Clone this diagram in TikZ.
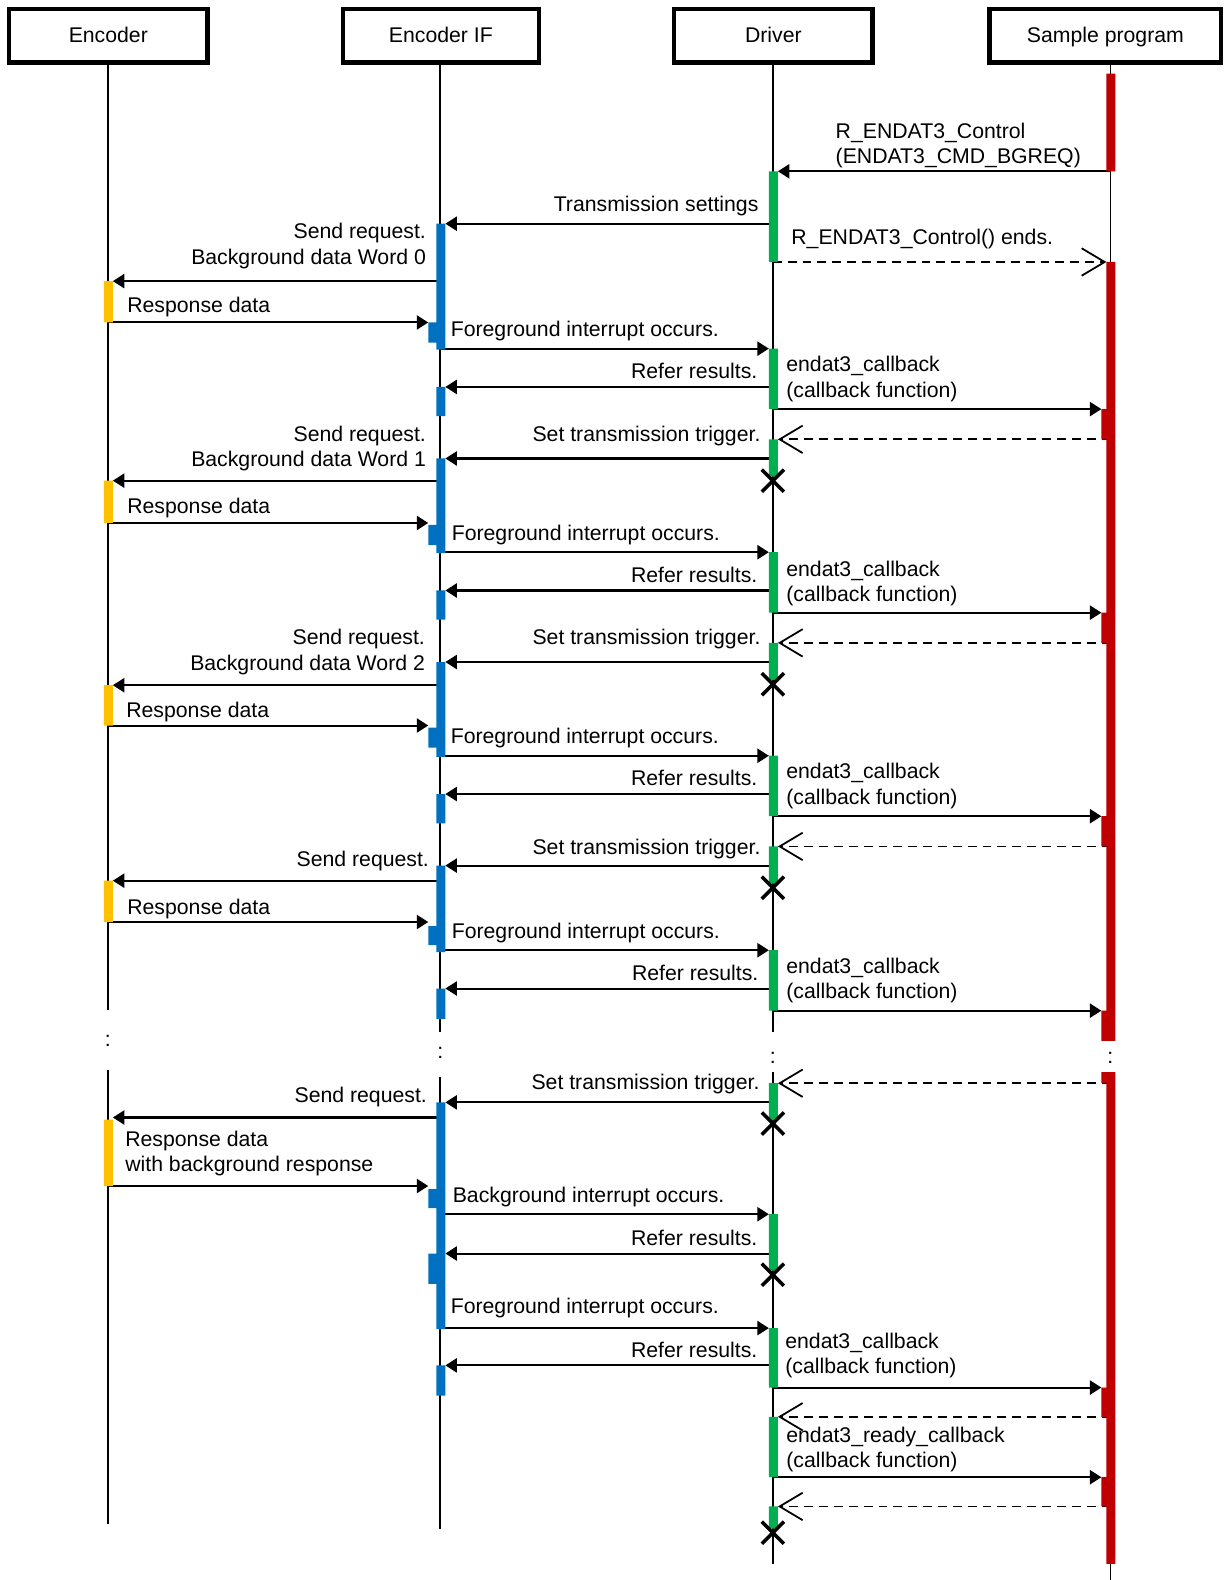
\documentclass[tikz,border=0pt]{standalone}
\usepackage{fontspec}
\setmainfont{Liberation Sans}
\usetikzlibrary{arrows.meta,positioning}
\definecolor{barred}{HTML}{C00000}
\definecolor{bargreen}{HTML}{00B050}
\definecolor{barblue}{HTML}{0070C0}
\definecolor{baryellow}{HTML}{FFC000}

\begin{document}
\begin{tikzpicture}[x=0.02cm,y=-0.02cm,font=\fontsize{12}{14.2}\selectfont,
    head/.style={draw,line width=2.4pt,minimum height=1.06cm,inner sep=0pt,text height=0.95em,text depth=0.2em},
    life/.style={line width=1pt},
    msg/.style={line width=1.15pt,-{Triangle[length=6.5pt,width=8pt]}},
    ret/.style={line width=1pt,dash pattern=on 5pt off 3.4pt,-{Straight Barb[length=13pt,width=15.5pt]}},
    lbl/.style={inner sep=0pt},
    xmark/.style={line width=2pt}]
  \useasboundingbox (0,0) rectangle (1214,1568);

  % headers
  \node[head,minimum width=3.94cm] (enc) at (107.5,35.5) {Encoder};
  \node[head,minimum width=3.9cm] (encif) at (437.5,35.5) {Encoder IF};
  \node[head,minimum width=3.94cm] (drv) at (767.5,35.5) {Driver};
  \node[head,minimum width=4.6cm] (smp) at (1097,35.5) {Sample program};

  % lifeline x and bar edges
  \coordinate (E) at (107,0);
  \coordinate (I) at (437,0);
  \coordinate (D) at (767,0);
  \coordinate (S) at (1102,0);
  \coordinate (yR) at (112,0);
  \coordinate (bN) at (425,0);
  \coordinate (bR) at (442,0);
  \coordinate (gL) at (763,0);
  \coordinate (gR) at (772,0);
  \coordinate (rN) at (1093,0);
  \coordinate (rL) at (1098,0);

  % lifelines
  \draw[life] (E |- enc.south) -- (E |- 0,1002) (E |- 0,1062) -- (E |- 0,1512);
  \draw[life] (I |- encif.south) -- (I |- 0,1024) (I |- 0,1069) -- (I |- 0,1517);
  \draw[life] (D |- drv.south) -- (D |- 0,1024) (D |- 0,1064) -- (D |- 0,1552);
  \draw[life] (S |- smp.south) -- (S |- 0,1033) (S |- 0,1064) -- (S |- 0,1568);
  \node[lbl] (dotE) at (107,1033) {:};
  \node[lbl] (dotI) at (437,1045) {:};
  \node[lbl] (dotD) at (767,1050) {:};
  \node[lbl] (dotS) at (1102,1050) {:};

  % messages
  \draw[msg] (S |- 0,170) -- (gR |- 0,170);
  \draw[msg] (D |- 0,222) -- (bR |- 0,222);
  \draw[ret] (D |- 0,260) -- (rL |- 0,260);
  \draw[msg] (I |- 0,279) -- (yR |- 0,279);
  \draw[msg] (E |- 0,320) -- (bN |- 0,320);
  \draw[msg] (I |- 0,346) -- (gL |- 0,346);
  \draw[msg] (D |- 0,384) -- (bR |- 0,384);
  \draw[msg] (D |- 0,406) -- (rN |- 0,406);
  \draw[ret] (S |- 0,436) -- (gR |- 0,436);
  \draw[msg] (D |- 0,455) -- (bR |- 0,455);

  \draw[msg] (I |- 0,477) -- (yR |- 0,477);
  \draw[msg] (E |- 0,519) -- (bN |- 0,519);
  \draw[msg] (I |- 0,548) -- (gL |- 0,548);
  \draw[msg] (D |- 0,586) -- (bR |- 0,586);
  \draw[msg] (D |- 0,608) -- (rN |- 0,608);
  \draw[ret] (S |- 0,638) -- (gR |- 0,638);
  \draw[msg] (D |- 0,657) -- (bR |- 0,657);

  \draw[msg] (I |- 0,680) -- (yR |- 0,680);
  \draw[msg] (E |- 0,720) -- (bN |- 0,720);
  \draw[msg] (I |- 0,750) -- (gL |- 0,750);
  \draw[msg] (D |- 0,788) -- (bR |- 0,788);
  \draw[msg] (D |- 0,810) -- (rN |- 0,810);
  \draw[ret] (S |- 0,840) -- (gR |- 0,840);
  \draw[msg] (D |- 0,859) -- (bR |- 0,859);

  \draw[msg] (I |- 0,874) -- (yR |- 0,874);
  \draw[msg] (E |- 0,915) -- (bN |- 0,915);
  \draw[msg] (I |- 0,943) -- (gL |- 0,943);
  \draw[msg] (D |- 0,981) -- (bR |- 0,981);
  \draw[msg] (D |- 0,1003) -- (rN |- 0,1003);

  \draw[ret] (S |- 0,1075) -- (gR |- 0,1075);
  \draw[msg] (D |- 0,1094) -- (bR |- 0,1094);
  \draw[msg] (I |- 0,1109) -- (yR |- 0,1109);
  \draw[msg] (E |- 0,1177) -- (bN |- 0,1177);
  \draw[msg] (I |- 0,1205) -- (gL |- 0,1205);
  \draw[msg] (D |- 0,1244) -- (bR |- 0,1244);
  \draw[msg] (I |- 0,1318) -- (gL |- 0,1318);
  \draw[msg] (D |- 0,1355) -- (bR |- 0,1355);
  \draw[msg] (D |- 0,1377) -- (rN |- 0,1377);
  \draw[ret] (S |- 0,1406) -- (gR |- 0,1406);
  \draw[msg] (D |- 0,1466) -- (rN |- 0,1466);
  \draw[ret] (S |- 0,1495) -- (gR |- 0,1495);

  % activation bars
  \fill[baryellow] (103,279) rectangle (112,320) (103,477) rectangle (112,519)
    (103,680) rectangle (112,720) (103,874) rectangle (112,915) (103,1111) rectangle (112,1177);
  \fill[barblue] (433,222) rectangle (442,347) (425,320) rectangle (433,340) (433,384) rectangle (442,413)
    (433,455) rectangle (442,549) (425,521) rectangle (433,541) (433,586) rectangle (442,615)
    (433,657) rectangle (442,751) (425,722) rectangle (433,742) (433,788) rectangle (442,817)
    (433,859) rectangle (442,945) (425,919) rectangle (433,938) (433,981) rectangle (442,1011)
    (433,1094) rectangle (442,1319) (425,1180) rectangle (433,1199) (425,1244) rectangle (433,1274)
    (433,1355) rectangle (442,1385);
  \fill[bargreen] (763,170) rectangle (772,260) (763,346) rectangle (772,406) (763,436) rectangle (772,473)
    (763,548) rectangle (772,608) (763,638) rectangle (772,675) (763,750) rectangle (772,810)
    (763,840) rectangle (772,877) (763,943) rectangle (772,1003) (763,1075) rectangle (772,1112)
    (763,1205) rectangle (772,1261) (763,1318) rectangle (772,1377) (763,1406) rectangle (772,1466)
    (763,1495) rectangle (772,1517);
  \fill[barred] (1098,73) rectangle (1107,170) (1098,260) rectangle (1107,1033)
    (1093,406) rectangle (1100,436) (1093,608) rectangle (1100,638) (1093,810) rectangle (1100,840)
    (1093,1003) rectangle (1100,1033) (1098,1064) rectangle (1107,1552) (1093,1064) rectangle (1100,1075)
    (1093,1377) rectangle (1100,1406) (1093,1466) rectangle (1100,1495);

  % ends of driver activations
  \draw[xmark] (D |- 0,477) +(-11,-11) -- +(11,11) +(-11,11) -- +(11,-11);
  \draw[xmark] (D |- 0,679) +(-11,-11) -- +(11,11) +(-11,11) -- +(11,-11);
  \draw[xmark] (D |- 0,881) +(-11,-11) -- +(11,11) +(-11,11) -- +(11,-11);
  \draw[xmark] (D |- 0,1115) +(-11,-11) -- +(11,11) +(-11,11) -- +(11,-11);
  \draw[xmark] (D |- 0,1265) +(-11,-11) -- +(11,11) +(-11,11) -- +(11,-11);
  \draw[xmark] (D |- 0,1521) +(-11,-11) -- +(11,11) +(-11,11) -- +(11,-11);

  % labels (two-line labels sit on their last baseline)
  \node[lbl,anchor=base west,align=left] (ctrl) at (829,162) {R\_ENDAT3\_Control\\(ENDAT3\_CMD\_BGREQ)};
  \node[lbl,anchor=base east] (tset) at (753,210) {Transmission settings};
  \node[lbl,anchor=base west] (ends) at (785,243) {R\_ENDAT3\_Control() ends.};

  \node[lbl,anchor=base east,align=right] (req0) at (423,262) {Send request.\\Background data Word 0};
  \node[lbl,anchor=base west] (rsp0) at (126,310) {Response data};
  \node[lbl,anchor=base west] (fg0) at (447,334) {Foreground interrupt occurs.};
  \node[lbl,anchor=base east] (ref0) at (752,376) {Refer results.};
  \node[lbl,anchor=base west,align=left] (cb0) at (780,394) {endat3\_callback\\(callback function)};

  \node[lbl,anchor=base east] (trg1) at (755,438) {Set transmission trigger.};
  \node[lbl,anchor=base east,align=right] (req1) at (423,463) {Send request.\\Background data Word 1};
  \node[lbl,anchor=base west] (rsp1) at (126,510) {Response data};
  \node[lbl,anchor=base west] (fg1) at (448,536) {Foreground interrupt occurs.};
  \node[lbl,anchor=base east] (ref1) at (752,578) {Refer results.};
  \node[lbl,anchor=base west,align=left] (cb1) at (780,597) {endat3\_callback\\(callback function)};

  \node[lbl,anchor=base east] (trg2) at (755,640) {Set transmission trigger.};
  \node[lbl,anchor=base east,align=right] (req2) at (422,665) {Send request.\\Background data Word 2};
  \node[lbl,anchor=base west] (rsp2) at (125,712) {Response data};
  \node[lbl,anchor=base west] (fg2) at (447,738) {Foreground interrupt occurs.};
  \node[lbl,anchor=base east] (ref2) at (752,780) {Refer results.};
  \node[lbl,anchor=base west,align=left] (cb2) at (780,798) {endat3\_callback\\(callback function)};

  \node[lbl,anchor=base east] (trg3) at (755,848) {Set transmission trigger.};
  \node[lbl,anchor=base east] (req3) at (426,860) {Send request.};
  \node[lbl,anchor=base west] (rsp3) at (126,908) {Response data};
  \node[lbl,anchor=base west] (fg3) at (448,931) {Foreground interrupt occurs.};
  \node[lbl,anchor=base east] (ref3) at (753,973) {Refer results.};
  \node[lbl,anchor=base west,align=left] (cb3) at (780,991) {endat3\_callback\\(callback function)};

  \node[lbl,anchor=base east] (trg4) at (754,1081) {Set transmission trigger.};
  \node[lbl,anchor=base east] (req4) at (424,1094) {Send request.};
  \node[lbl,anchor=base west,align=left] (rsp4) at (124,1163) {Response data\\with background response};
  \node[lbl,anchor=base west] (bg4) at (449,1193) {Background interrupt occurs.};
  \node[lbl,anchor=base east] (ref4) at (752,1236) {Refer results.};
  \node[lbl,anchor=base west] (fg4) at (447,1304) {Foreground interrupt occurs.};
  \node[lbl,anchor=base east] (ref5) at (752,1347) {Refer results.};
  \node[lbl,anchor=base west,align=left] (cb4) at (779,1363) {endat3\_callback\\(callback function)};
  \node[lbl,anchor=base west,align=left] (rdy) at (780,1456) {endat3\_ready\_callback\\(callback function)};
\end{tikzpicture}
\end{document}
